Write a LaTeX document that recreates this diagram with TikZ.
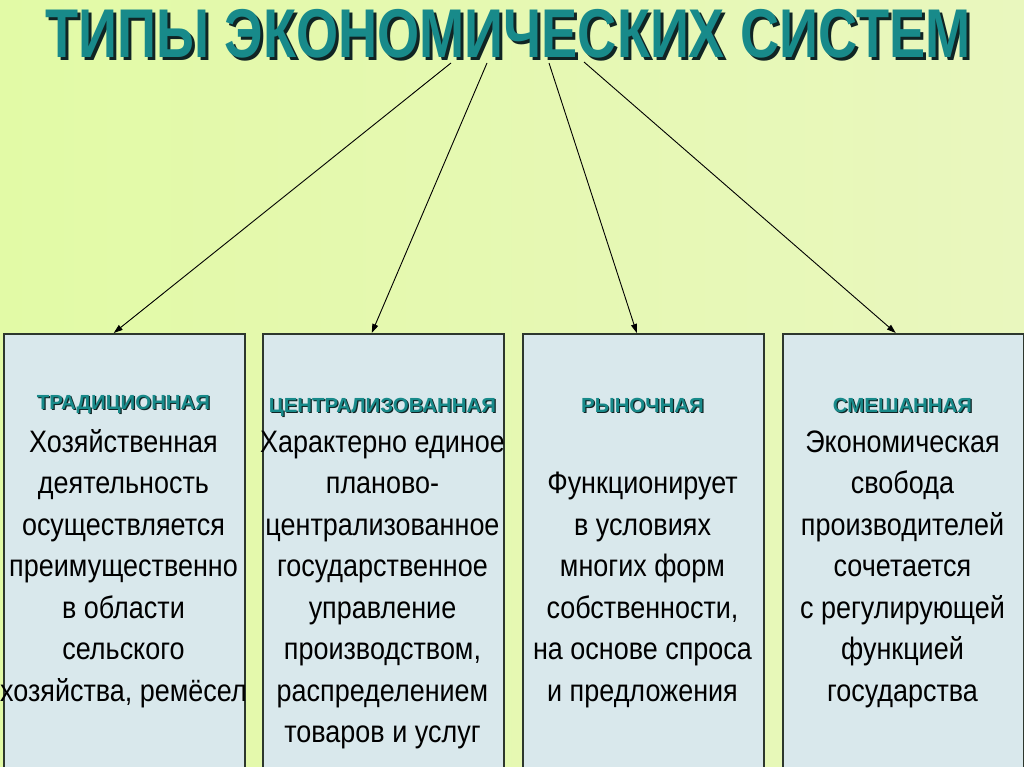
\documentclass[tikz,border=0pt]{standalone}
\usepackage{fontspec}
\setmainfont{Liberation Sans}
\newfontfamily\titlefont[FakeStretch=0.785]{Liberation Sans}
\newfontfamily\bodyfont[FakeStretch=0.87]{Liberation Sans}
\usetikzlibrary{arrows.meta}
\definecolor{teal1}{RGB}{24,138,138}
\definecolor{shad}{RGB}{16,36,36}
\definecolor{boxfill}{RGB}{217,232,236}
\definecolor{boxline}{RGB}{45,55,45}
\definecolor{bgL}{RGB}{226,250,166}
\definecolor{bgR}{RGB}{233,247,190}
\newcommand{\shtext}[2]{\leavevmode\rlap{\kern#1\raisebox{-#1}{\color{shad}#2}}#2}
\tikzset{
  typebox/.style={draw=boxline, fill=boxfill, line width=1.5pt, minimum width=241pt, minimum height=470pt, inner sep=0pt, anchor=north west},
  head/.style={anchor=base, inner sep=0pt, text=teal1, font=\bfseries\fontsize{20.4}{24}\selectfont},
  body/.style={anchor=base, inner sep=0pt, align=center, text=black, font=\bodyfont\fontsize{31}{41.5}\selectfont},
  arr/.style={-{Triangle[length=9pt,width=6pt]}, line width=0.9pt, black}
}
\begin{document}
\begin{tikzpicture}[x=1pt,y=-1pt]
\useasboundingbox (0,0) rectangle (1024,767);
\clip (0,0) rectangle (1024,767);
\fill[left color=bgL, right color=bgR] (0,0) rectangle (1024,767);

\node[anchor=base, inner sep=0pt, text=teal1, font=\titlefont\bfseries\fontsize{69}{80}\selectfont] (title) at (508,58) {\shtext{3pt}{ТИПЫ ЭКОНОМИЧЕСКИХ СИСТЕМ}};

\node[typebox] (b1) at (3,333) {};
\node[typebox] (b2) at (262,333) {};
\node[typebox] (b3) at (522,333) {};
\node[typebox] (b4) at (782,333) {};

\coordinate (s1) at (451,63);
\coordinate (s2) at (487,63);
\coordinate (s3) at (549,63);
\coordinate (s4) at (584,62);
\draw[arr] (s1) -- ([xshift=-10.5pt]b1.north);
\draw[arr] (s2) -- ([xshift=-11.5pt]b2.north);
\draw[arr] (s3) -- ([xshift=-6.5pt]b3.north);
\draw[arr] (s4) -- ([xshift=-7.5pt]b4.north);

\node[head] (h1) at (123.5,409) {\shtext{1.2pt}{ТРАДИЦИОННАЯ}};
\node[head] (h2) at (382.5,412) {\shtext{1.2pt}{ЦЕНТРАЛИЗОВАННАЯ}};
\node[head] (h3) at (642.5,412) {\shtext{1.2pt}{РЫНОЧНАЯ}};
\node[head] (h4) at (902.5,412) {\shtext{1.2pt}{СМЕШАННАЯ}};

\node[body] (t1) at (123.5,701) {Хозяйственная\\деятельность\\осуществляется\\преимущественно\\в области\\сельского\\хозяйства, ремёсел};
\node[body] (t2) at (382.5,742.5) {Характерно единое\\планово-\\централизованное\\государственное\\управление\\производством,\\распределением\\товаров и услуг};
\node[body] (t3) at (642.5,701) {Функционирует\\в условиях\\многих форм\\собственности,\\на основе спроса\\и предложения};
\node[body] (t4) at (902.5,701) {Экономическая\\свобода\\производителей\\сочетается\\с регулирующей\\функцией\\государства};
\end{tikzpicture}
\end{document}
